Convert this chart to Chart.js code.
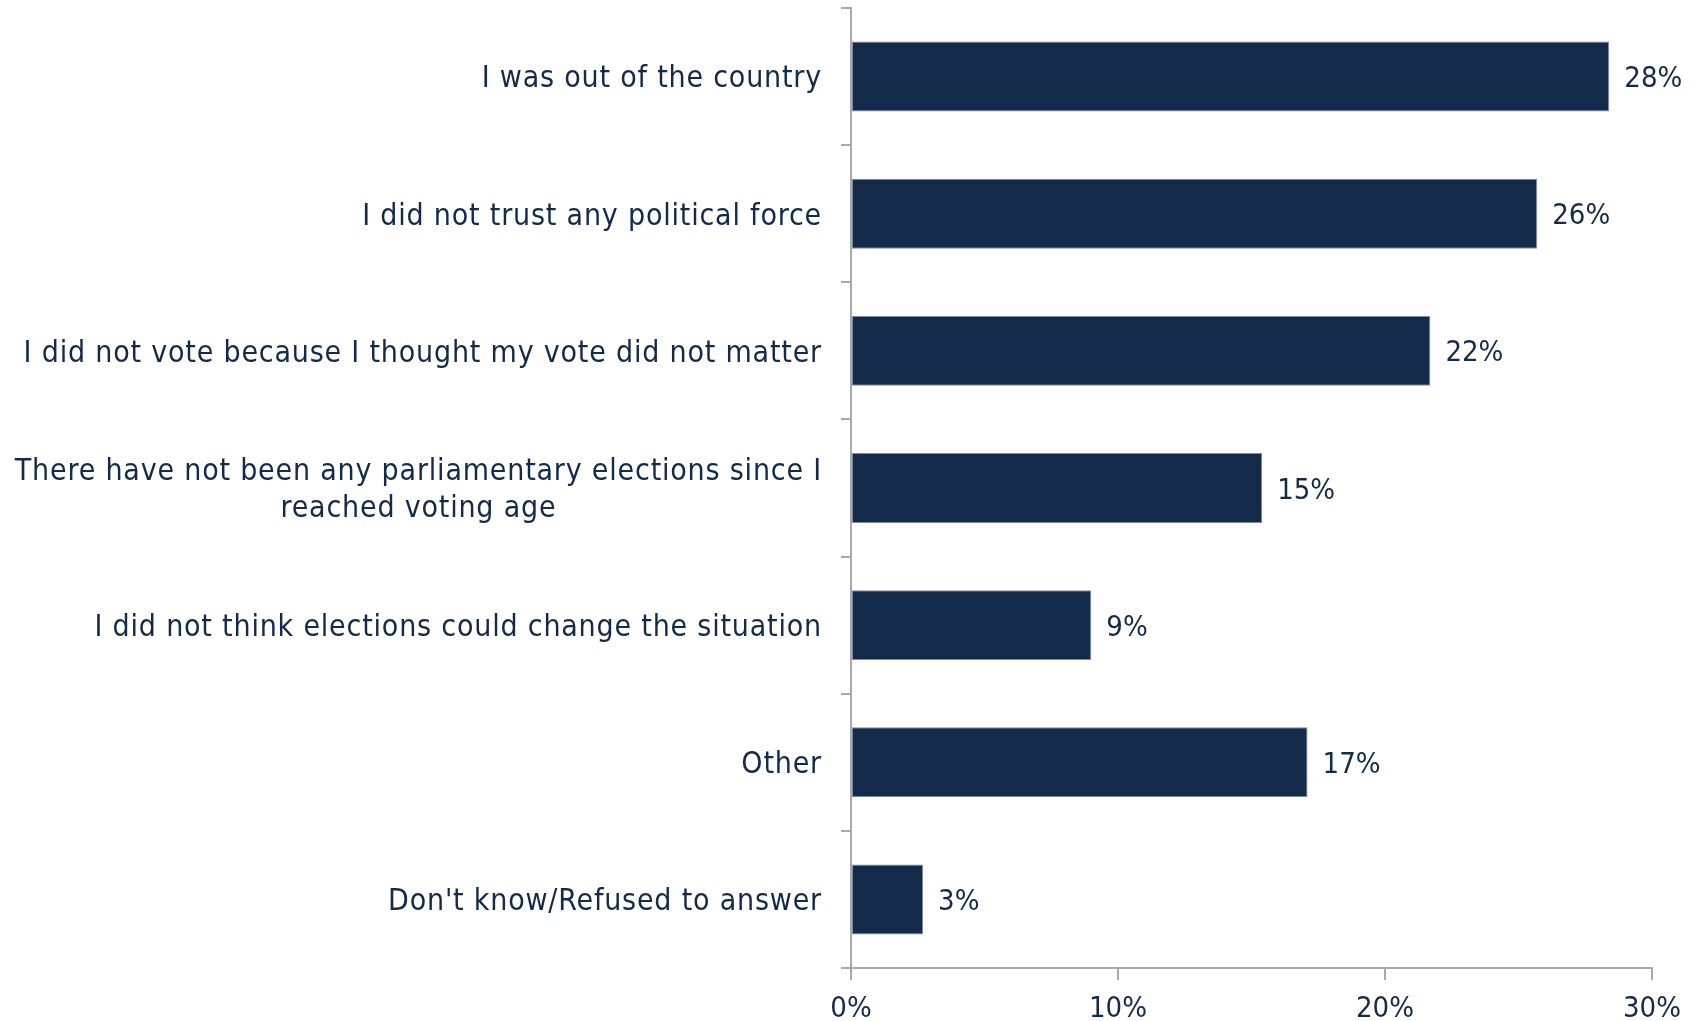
<!DOCTYPE html>
<html>
<head>
<meta charset="utf-8">
<script src="https://cdn.jsdelivr.net/npm/chart.js@4"></script>
<style>
  html, body { margin: 0; padding: 0; background: #fff; }
  #wrap { width: 1696px; height: 1021px; }
</style>
</head>
<body>
<div id="wrap"><canvas id="reasonChart" width="1696" height="1021"></canvas></div>
<script>
const categories = [
    ['I was out of the country'],
    ['I did not trust any political force'],
    ['I did not vote because I thought my vote did not matter'],
    ['There have not been any parliamentary elections since I', 'reached voting age'],
    ['I did not think elections could change the situation'],
    ['Other'],
    ["Don't know/Refused to answer"]
];
const shares = [28.4, 25.7, 21.7, 15.4, 9.0, 17.1, 2.7];
const xTicks = [0, 10, 20, 30];

const navy = '#132a4a';
const axisGrey = '#a8a8ad';
const fontFamily = '"DejaVu Sans Condensed", "DejaVu Sans", sans-serif';
const fontSize = 30;

// category labels drawn by hand so wrapped lines centre under each other
const labelPlugin = {
    id: 'labels',
    afterDraw(chart) {
        const ctx = chart.ctx;
        const yScale = chart.scales.y;
        const meta = chart.getDatasetMeta(0);
        ctx.save();
        ctx.font = fontSize + 'px ' + fontFamily;
        ctx.fillStyle = navy;
        ctx.textBaseline = 'middle';
        ctx.letterSpacing = '0.8px';
        const right = yScale.right - 29;
        const lineH = 37;
        categories.forEach(function(lines, i) {
            const y = yScale.getPixelForValue(i) + 3;
            const top = y - (lines.length - 1) * lineH / 2;
            if (lines.length === 1) {
                ctx.textAlign = 'right';
                ctx.fillText(lines[0], right, y);
            } else {
                const w = Math.max(...lines.map(l => ctx.measureText(l).width));
                ctx.textAlign = 'center';
                lines.forEach(function(l, j) {
                    ctx.fillText(l, right - w / 2, top + j * lineH);
                });
            }
        });
        // value labels
        ctx.letterSpacing = '0px';
        ctx.font = '29px ' + fontFamily;
        ctx.textAlign = 'left';
        meta.data.forEach(function(bar, i) {
            ctx.fillText(Math.round(shares[i]) + '%', bar.x + 15, bar.y + 3);
        });
        ctx.restore();
    }
};

new Chart(document.getElementById('reasonChart').getContext('2d'), {
    type: 'bar',
    data: {
        labels: categories,
        datasets: [{
            data: shares,
            backgroundColor: navy,
            borderColor: '#7d8ca2',
            borderWidth: 1,
            borderSkipped: false,
            barPercentage: 0.51,
            categoryPercentage: 1
        }]
    },
    options: {
        indexAxis: 'y',
        responsive: false,
        animation: false,
        devicePixelRatio: 1,
        layout: { padding: { top: 8, right: 44, left: 0, bottom: 0 } },
        plugins: {
            legend: { display: false },
            tooltip: { enabled: false }
        },
        scales: {
            x: {
                min: 0,
                max: 30,
                afterFit: function(s) { s.height = 53; },
                afterBuildTicks: function(s) { s.ticks = xTicks.map(v => ({ value: v })); },
                border: { color: axisGrey, width: 2 },
                grid: { drawOnChartArea: false, drawTicks: true, tickLength: 12, color: axisGrey, lineWidth: 2 },
                ticks: {
                    color: navy,
                    padding: 12,
                    font: { family: fontFamily, size: 29 },
                    callback: function(v) { return v + '%'; }
                }
            },
            y: {
                afterFit: function(s) { s.width = 851; },
                border: { color: axisGrey, width: 2 },
                grid: { offset: true, drawOnChartArea: false, drawTicks: true, tickLength: 10, color: axisGrey, lineWidth: 2 },
                ticks: { display: false }
            }
        }
    },
    plugins: [labelPlugin]
});
</script>
</body>
</html>
